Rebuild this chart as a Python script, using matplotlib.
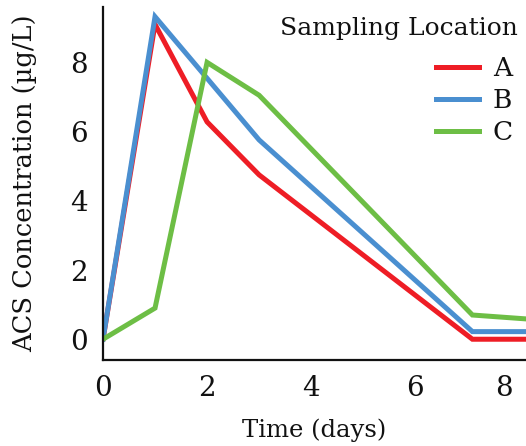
import matplotlib
matplotlib.use("Agg")
import matplotlib.pyplot as plt
from matplotlib.transforms import ScaledTranslation

plt.rcParams['font.family'] = ['DejaVu Serif']

days_A = [0, 1, 2, 3, 7.1, 8.2]
conc_A = [0, 9.1, 6.28, 4.75, 0.0, 0.0]
days_B = [0, 1, 3, 7.1, 8.2]
conc_B = [0, 9.32, 5.76, 0.22, 0.22]
days_C = [0, 1, 2, 3, 7.1, 8.2]
conc_C = [0, 0.9, 8.0, 7.05, 0.7, 0.58]

labels = ["A", "B", "C"]
colors = ["#EE1D25", "#4A8FD0", "#6DBE45"]

xticks = [0, 2, 4, 6, 8]
yticks = [0, 2, 4, 6, 8]

fig = plt.figure(figsize=(5.26, 4.46), dpi=100)
ax = fig.add_axes([103/526, 86/446, 1 - 103/526, (360-7)/446])

for d, c, lab, col in zip([days_A, days_B, days_C], [conc_A, conc_B, conc_C], labels, colors):
    ax.plot(d, c, color=col, lw=3.6, label=lab, solid_joinstyle='miter', clip_on=True)

ax.set_xlim(0, 8.13)
ax.set_ylim(-0.6, 9.6)
ax.set_xticks(xticks)
ax.set_yticks(yticks)
ax.set_xticklabels([str(t) for t in xticks])
ax.set_yticklabels([str(t) for t in yticks])
ax.tick_params(length=0, labelsize=20, colors='#111111')
ax.tick_params(axis='x', pad=11)
ax.tick_params(axis='y', pad=11)
lbls = ax.get_xticklabels()
lbls[-1].set_horizontalalignment('right')
lbls[-1].set_transform(lbls[-1].get_transform() + ScaledTranslation(-5/72, 0, fig.dpi_scale_trans))

for s in ['top', 'right']:
    ax.spines[s].set_visible(False)
for s in ['left', 'bottom']:
    ax.spines[s].set_linewidth(1.6)
    ax.spines[s].set_color('#111111')

ax.set_xlabel("Time (days)", fontsize=17.5, labelpad=12, color='#111111')
ax.set_ylabel("ACS Concentration (µg/L)", fontsize=18.5, labelpad=24, color='#111111')

fig.text(518/526, 1 - 35/446, "Sampling Location", fontsize=18, ha='right', va='baseline',
         color='#111111')

leg = ax.legend(loc='upper right', bbox_to_anchor=(1.0, 1 - 36/353),
                frameon=False, fontsize=19, alignment='right',
                handlelength=1.65, handletextpad=0.5, labelspacing=0.26, borderaxespad=0.1)
for t in leg.get_texts():
    t.set_color('#111111')

fig.savefig("out.png", dpi=100)
